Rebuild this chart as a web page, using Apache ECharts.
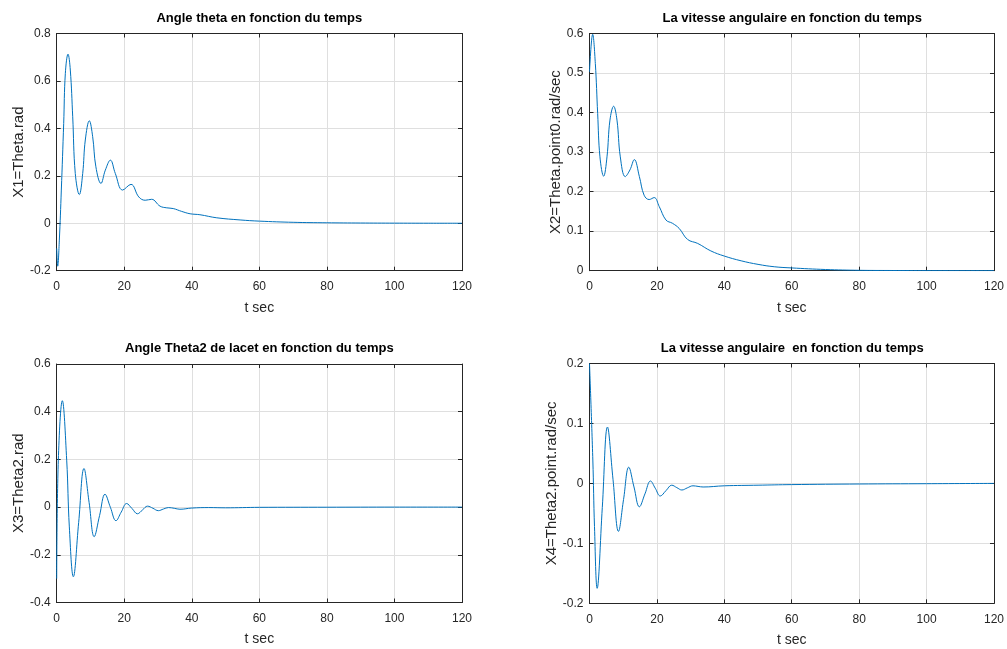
<!DOCTYPE html>
<html>
<head>
<meta charset="utf-8">
<script src="https://cdn.jsdelivr.net/npm/echarts@6/dist/echarts.min.js"></script>
<style>html,body{margin:0;padding:0;background:#fff}#c{width:1007px;height:649px}</style>
</head>
<body>
<div id="c"></div>
<script>
// ---- Data ----
const titles = [
  'Angle theta en fonction du temps',
  'La vitesse angulaire en fonction du temps',
  'Angle Theta2 de lacet en fonction du temps',
  'La vitesse angulaire  en fonction du temps'
];
const yNames = ['X1=Theta.rad', 'X2=Theta.point0.rad/sec', 'X3=Theta2.rad', 'X4=Theta2.point.rad/sec'];
const xName = 't sec';
const xTicks = { min: 0, max: 120, interval: 20 };
const yRanges = [
  { min: -0.2, max: 0.8, interval: 0.2 },
  { min: 0, max: 0.6, interval: 0.1 },
  { min: -0.4, max: 0.6, interval: 0.2 },
  { min: -0.2, max: 0.2, interval: 0.1 }
];

const t1 = [0, 0.3, 0.78, 1.37, 2.07, 2.56, 3.35, 4.03, 4.74, 5.5, 6.7, 7.7, 8.47, 9.66, 10.65, 11.6, 13.1, 14.4, 15.9, 17.35, 19.5, 22.0, 24.3, 26.2, 28.1, 30.6, 32.6, 34.5, 37, 39.5, 42.4, 47.4, 54.3, 60, 70, 80, 90, 100, 110, 120];
const x1 = [-0.106, -0.181, -0.071, 0.14, 0.421, 0.632, 0.713, 0.646, 0.449, 0.21, 0.121, 0.21, 0.351, 0.432, 0.365, 0.238, 0.168, 0.224, 0.266, 0.21, 0.14, 0.164, 0.111, 0.097, 0.101, 0.072, 0.065, 0.062, 0.05, 0.04, 0.036, 0.023, 0.014, 0.009, 0.004, 0.002, 0.001, 0.0005, 0.0002, 0.0001];

const t2 = [0, 0.94, 1.73, 2.42, 3.1, 4.2, 5.19, 6.07, 7.16, 8.15, 9.14, 10.6, 12.0, 13.3, 14.8, 16.2, 17.7, 19.2, 20.7, 22.7, 24.6, 26.6, 29.1, 32.1, 36, 40, 45, 50, 54.8, 60, 70, 80, 90, 100, 120];
const x2 = [0.503, 0.598, 0.524, 0.398, 0.288, 0.239, 0.288, 0.381, 0.416, 0.381, 0.288, 0.238, 0.255, 0.281, 0.238, 0.191, 0.18, 0.185, 0.162, 0.128, 0.12, 0.107, 0.079, 0.069, 0.05, 0.037, 0.025, 0.016, 0.01, 0.007, 0.003, 0.001, 0.0005, 0.0002, 0.0001];

const t3 = [0, 0.48, 1.67, 2.96, 3.74, 4.93, 6.5, 8.08, 9.6, 11.1, 12.7, 14.3, 15.9, 17.55, 19.1, 20.7, 22.3, 23.9, 25.4, 26.9, 28.5, 30.1, 31.6, 33.1, 34.8, 36.5, 40, 45, 50, 60, 80, 100, 120];
const x3 = [-0.30, 0.197, 0.446, 0.197, -0.083, -0.292, -0.065, 0.162, 0.019, -0.124, -0.035, 0.054, -0.001, -0.057, -0.021, 0.015, -0.006, -0.028, -0.012, 0.004, -0.005, -0.015, -0.008, -0.002, -0.005, -0.009, -0.004, -0.002, -0.003, -0.001, -0.0005, 0, 0];

const t4 = [0, 0.99, 1.48, 2.27, 3.8, 5.33, 6.97, 8.6, 10.1, 11.65, 13.2, 14.8, 16.45, 18.1, 19.5, 21.0, 22.7, 24.4, 25.9, 27.4, 29, 30.7, 32.2, 33.7, 40, 50, 60, 80, 100, 120];
const x4 = [0.2, 0.039, -0.072, -0.175, -0.04, 0.094, 0.007, -0.08, -0.027, 0.027, -0.006, -0.039, -0.0175, 0.004, -0.008, -0.021, -0.012, -0.003, -0.007, -0.011, -0.0075, -0.004, -0.005, -0.006, -0.004, -0.003, -0.002, -0.001, -0.0005, 0];

const times = [t1, t2, t3, t4];
const values = [x1, x2, x3, x4];

// ---- Layout ----
const boxes = [
  { l: 56.7, r: 462, t: 33.5, b: 270.7, yGap: 30 },
  { l: 589.5, r: 995, t: 33.5, b: 270.7, yGap: 24 },
  { l: 56.7, r: 462, t: 364, b: 602.5, yGap: 29 },
  { l: 589.5, r: 995, t: 363.5, b: 603.3, yGap: 27 }
];
const FONT = 'Liberation Sans, Arial, sans-serif';
const AX = '#262626';
const GRIDC = '#dfdfdf';

const grid = [], xAxis = [], yAxis = [], series = [], title = [];
boxes.forEach((b, i) => {
  grid.push({ left: b.l, top: b.t, width: b.r - b.l, height: b.b - b.t, containLabel: false });
  title.push({
    text: titles[i], left: (b.l + b.r) / 2, top: b.t - 22, textAlign: 'center', padding: 0,
    textStyle: { fontFamily: FONT, fontSize: 13, fontWeight: 'bold', color: '#000' }
  });
  const common = { type: 'value', gridIndex: i, min: xTicks.min, max: xTicks.max, interval: xTicks.interval,
    axisLine: { show: true, onZero: false, lineStyle: { color: AX, width: 1 } },
    axisTick: { show: true, inside: true, length: 4, lineStyle: { color: AX } } };
  xAxis.push(Object.assign({}, common, {
    position: 'bottom', name: xName, nameLocation: 'middle', nameGap: 30,
    nameTextStyle: { fontFamily: FONT, fontSize: 14, color: AX },
    axisLabel: { margin: 10, fontFamily: FONT, fontSize: 12, color: AX },
    splitLine: { show: true, lineStyle: { color: GRIDC, width: 1 } }
  }));
  xAxis.push(Object.assign({}, common, {
    position: 'top', axisLabel: { show: false }, splitLine: { show: false }
  }));
  const yr = yRanges[i];
  const ycommon = { type: 'value', gridIndex: i, min: yr.min, max: yr.max, interval: yr.interval,
    axisLine: { show: true, onZero: false, lineStyle: { color: AX, width: 1 } },
    axisTick: { show: true, inside: true, length: 4, lineStyle: { color: AX } } };
  yAxis.push(Object.assign({}, ycommon, {
    position: 'left', name: yNames[i], nameLocation: 'middle', nameGap: b.yGap, nameRotate: 90,
    nameTextStyle: { fontFamily: FONT, fontSize: 15, color: AX },
    axisLabel: { margin: 6, fontFamily: FONT, fontSize: 12, color: AX },
    splitLine: { show: true, lineStyle: { color: GRIDC, width: 1 } }
  }));
  yAxis.push(Object.assign({}, ycommon, {
    position: 'right', axisLabel: { show: false }, splitLine: { show: false }
  }));
  series.push({
    type: 'line', xAxisIndex: 2 * i, yAxisIndex: 2 * i, showSymbol: false, smooth: 0.4,
    lineStyle: { color: '#0072BD', width: 1 }, itemStyle: { color: '#0072BD' },
    data: times[i].map((t, k) => [t, values[i][k]]), animation: false, clip: true
  });
});

const chart = echarts.init(document.getElementById('c'), null, { renderer: 'canvas' });
chart.setOption({ backgroundColor: '#fff', animation: false, title, grid, xAxis, yAxis, series });
</script>
</body>
</html>
